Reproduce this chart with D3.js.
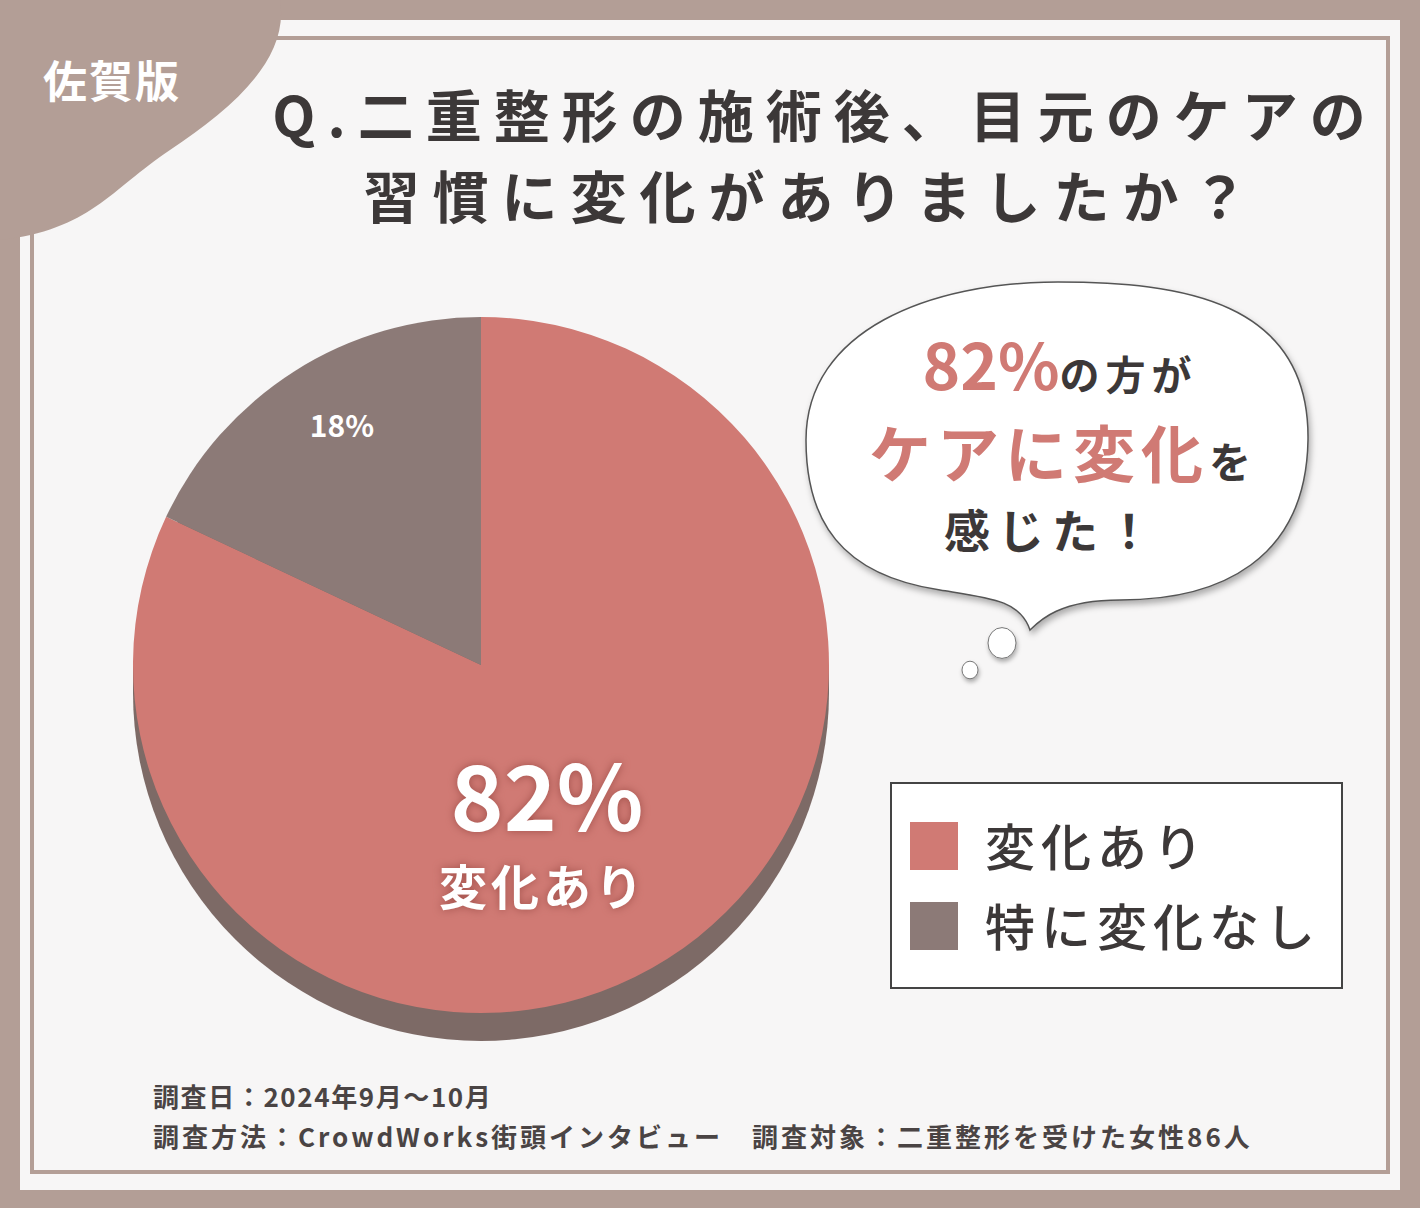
<!DOCTYPE html>
<html><head><meta charset="utf-8">
<script src="https://cdn.jsdelivr.net/npm/d3@7"></script>
<style>body{margin:0;background:#b39e96}svg{display:block}text{font-family:"Noto Sans CJK JP","Noto Sans",sans-serif}</style>
</head><body><svg id="c" width="1420" height="1208"></svg>
<script>
const categories=["変化あり","特に変化なし"];
const values=[82,18];
const colors=["#d07a74","#8c7a77"];
const titleLines=["Q.二重整形の施術後、目元のケアの","習慣に変化がありましたか？"];
const footer=["調査日：2024年9月～10月","調査方法：CrowdWorks街頭インタビュー　調査対象：二重整形を受けた女性86人"];

const svg=d3.select("#c");
svg.append("rect").attr("width",1420).attr("height",1208).attr("fill","#b39e96");
svg.append("rect").attr("x",20).attr("y",20).attr("width",1380).attr("height",1170).attr("fill","#f7f6f6");
svg.append("rect").attr("x",32).attr("y",38).attr("width",1356).attr("height",1134).attr("fill","none").attr("stroke","#b39e96").attr("stroke-width",4);
svg.append("path").attr("d","M0,0 H280 C290,60 230,110 170,150 C110,190 90,230 0,240 Z").attr("fill","#b39e96");
svg.append("text").attr("x",112).attr("y",98).attr("text-anchor","middle").attr("font-size",44).attr("font-weight",700).attr("fill","#fff").attr("letter-spacing",2).text("佐賀版");
titleLines.forEach((t,i)=>svg.append("text").attr("x",i?812:825).attr("y",i?218:137).attr("text-anchor","middle").attr("font-size",56).attr("font-weight",700).attr("fill","#3c3838").attr("letter-spacing",i?13:12).text(t));

const cx=481,cy=665,r=348;
const pie=d3.pie().sort(null)(values);
const arc=d3.arc().innerRadius(0).outerRadius(r);
const g=svg.append("g").attr("transform",`translate(${cx},${cy})`);
g.append("circle").attr("cy",28).attr("r",r).attr("fill","#7d6a66");
g.append("rect").attr("x",-r).attr("y",0).attr("width",2*r).attr("height",28).attr("fill","#7d6a66");
g.selectAll("path.s").data(pie).join("path").attr("d",arc).attr("fill",(d,i)=>colors[i]);
const glow="drop-shadow(0 0 4px #a0504a)";
g.append("text").attr("x",66).attr("y",166).attr("text-anchor","middle").attr("font-size",90).attr("font-weight",700).attr("fill","#fff").style("filter",glow).text("82%");
g.append("text").attr("x",62).attr("y",240).attr("text-anchor","middle").attr("font-size",48).attr("font-weight",700).attr("fill","#fff").attr("letter-spacing",4).style("filter",glow).text(categories[0]);
g.append("text").attr("x",-139).attr("y",-228).attr("text-anchor","middle").attr("font-size",30).attr("font-weight",700).attr("fill","#fff").text("18%");

svg.append("path").attr("d","M1058,282 C1180,282 1310,300 1308,440 C1306,560 1220,600 1120,600 C1060,600 1040,620 1030,630 C1020,600 990,598 940,590 C840,575 806,520 806,440 C806,330 930,282 1058,282 Z")
 .attr("fill","#fff").attr("stroke","#555").attr("stroke-width",1.5).style("filter","drop-shadow(2px 4px 3px rgba(0,0,0,.3))");
[[1002,643,14],[970,670,8]].forEach(c=>svg.append("ellipse").attr("cx",c[0]).attr("cy",c[1]).attr("rx",c[2]).attr("ry",c[2]*1.1).attr("fill","#fff").attr("stroke","#777").style("filter","drop-shadow(1px 3px 2px rgba(0,0,0,.3))"));
const b1=svg.append("text").attr("x",1060).attr("y",390).attr("text-anchor","middle").attr("font-weight",700);
b1.append("tspan").attr("font-size",64).attr("fill","#d07a74").text("82%");
b1.append("tspan").attr("font-size",40).attr("fill","#3c3838").attr("letter-spacing",6).text("の方が");
const b2=svg.append("text").attr("x",1060).attr("y",478).attr("text-anchor","middle").attr("font-weight",700);
b2.append("tspan").attr("font-size",62).attr("fill","#d07a74").attr("letter-spacing",6).text("ケアに変化");
b2.append("tspan").attr("font-size",42).attr("fill","#3c3838").text("を");
svg.append("text").attr("x",1052).attr("y",548).attr("text-anchor","middle").attr("font-size",46).attr("font-weight",700).attr("fill","#3c3838").attr("letter-spacing",8).text("感じた！");

svg.append("rect").attr("x",891).attr("y",783).attr("width",451).attr("height",205).attr("fill","#fff").attr("stroke","#444").attr("stroke-width",2);
categories.forEach((c,i)=>{
 svg.append("rect").attr("x",910).attr("y",822+i*80).attr("width",48).attr("height",48).attr("fill",colors[i]);
 svg.append("text").attr("x",985).attr("y",866+i*80).attr("font-size",50).attr("font-weight",500).attr("fill","#3c3838").attr("letter-spacing",6).text(c);
});
footer.forEach((t,i)=>svg.append("text").attr("x",153).attr("y",1107+i*40).attr("font-size",26).attr("font-weight",700).attr("fill","#4a4444").attr("letter-spacing",i?3:1.6).text(t));
</script></body></html>
